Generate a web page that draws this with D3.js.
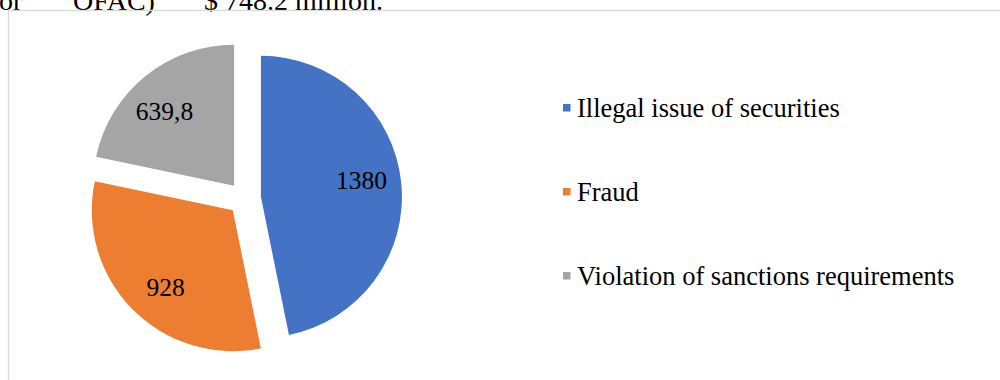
<!DOCTYPE html>
<html>
<head>
<meta charset="utf-8">
<script src="https://cdn.jsdelivr.net/npm/d3@7"></script>
<style>
  body { margin: 0; background: #fff; }
  svg { display: block; font-family: "Liberation Serif", "Times New Roman", serif; }
</style>
</head>
<body>
<div id="chart"></div>
<script>
// chart data
const categories = ['Illegal issue of securities', 'Fraud', 'Violation of sanctions requirements'];
const values = [1380, 928, 639.8];
const valueLabels = ['1380', '928', '639,8'];

const width = 1000;
const height = 380;

const svg = d3.select('#chart')
    .append('svg')
    .attr('width', width)
    .attr('height', height);

// line of text above the chart, cut off by the top edge as in the source
const headerParts = [
    { text: 'or', x: -1 },
    { text: 'OFAC)', x: 73 },
    { text: '$ 748.2 million.', x: 204 }
];
svg.selectAll('.header')
    .data(headerParts)
    .enter()
    .append('text')
    .attr('class', 'header')
    .attr('x', d => d.x)
    .attr('y', 10)
    .attr('font-size', '28px')
    .attr('fill', '#000')
    .text(d => d.text);

// chart frame (only top and left edges are in view)
svg.append('rect')
    .attr('x', 8.5)
    .attr('y', 10.5)
    .attr('width', 1100)
    .attr('height', 500)
    .attr('fill', 'none')
    .attr('stroke', '#d9d9d9')
    .attr('stroke-width', 1.3);

const color = d3.scaleOrdinal()
    .domain(categories)
    .range(['#4472C4', '#ED7D31', '#A5A5A5']);

// pie
const cx = 244.5, cy = 198.5;
const radius = 141;
const explode = 16.5;
const labelRadius = 102;
const labelTurn = -4 * Math.PI / 180;

const pie = d3.pie()
    .sort(null)
    .value(d => d.value);

const arcs = pie(categories.map((c, i) => ({ name: c, value: values[i], label: valueLabels[i] })));

const arc = d3.arc().innerRadius(0).outerRadius(radius);

function offset(d) {
    const a = (d.startAngle + d.endAngle) / 2;
    return [Math.sin(a) * explode, -Math.cos(a) * explode];
}

function labelPos(d) {
    const a = (d.startAngle + d.endAngle) / 2 + labelTurn;
    return [Math.sin(a) * labelRadius, -Math.cos(a) * labelRadius];
}

const pieG = svg.append('g')
    .attr('transform', `translate(${cx}, ${cy})`);

const slices = pieG.selectAll('.slice')
    .data(arcs)
    .enter()
    .append('g')
    .attr('class', 'slice')
    .attr('transform', d => `translate(${offset(d)[0]}, ${offset(d)[1]})`);

slices.append('path')
    .attr('d', arc)
    .attr('fill', d => color(d.data.name));

slices.append('text')
    .attr('transform', d => `translate(${labelPos(d)})`)
    .attr('text-anchor', 'middle')
    .attr('dy', '0.35em')
    .attr('font-size', '25.5px')
    .attr('fill', '#000')
    .text(d => d.data.label);

// legend
const legend = svg.selectAll('.legend')
    .data(categories)
    .enter()
    .append('g')
    .attr('class', 'legend')
    .attr('transform', (d, i) => `translate(563, ${116.5 + i * 84})`);

legend.append('rect')
    .attr('x', 0)
    .attr('y', -12.5)
    .attr('width', 7.5)
    .attr('height', 7.5)
    .attr('fill', d => color(d));

legend.append('text')
    .attr('x', 14)
    .attr('y', 0)
    .attr('font-size', '26.5px')
    .attr('fill', '#000')
    .text(d => d);
</script>
</body>
</html>
